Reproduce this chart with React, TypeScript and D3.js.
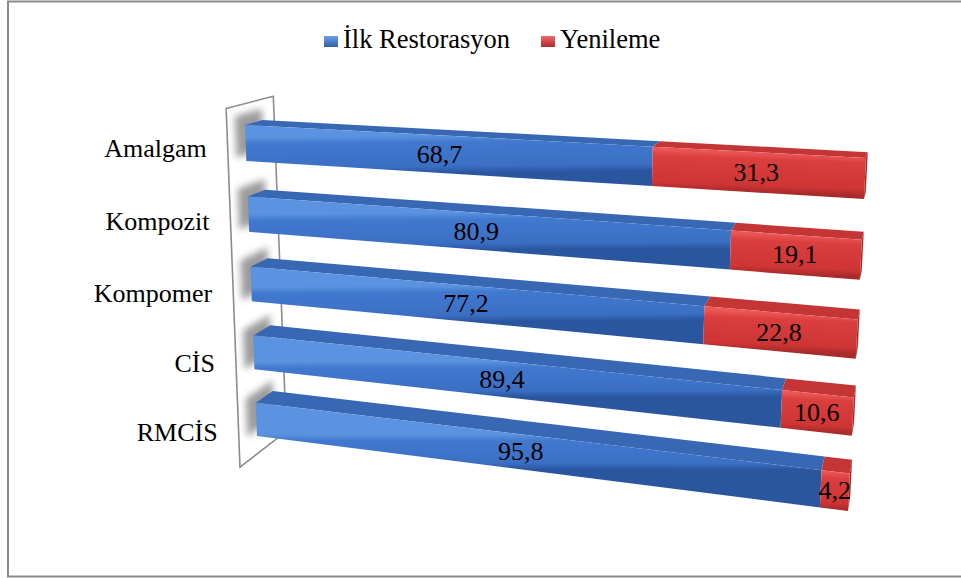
import React from 'react';
import * as d3 from 'd3';

const categories = ['Amalgam', 'Kompozit', 'Kompomer', 'CİS', 'RMCİS'];
const ilkRestorasyon = [68.7, 80.9, 77.2, 89.4, 95.8];
const yenileme = [31.3, 19.1, 22.8, 10.6, 4.2];
const seriesKeys = ['ilk', 'yen'];
const seriesNames = ['İlk Restorasyon', 'Yenileme'];
const valueDomain = [0, 100];

const W = 961;
const H = 578;
const FONT = 'Liberation Serif, Times New Roman, serif';

// front plane of the bars: unit square -> screen quad (perspective)
const QUAD = [[245, 125], [866, 158], [848, 511], [257, 436]];
const VP = [938, -75]; // vanishing point of depth axis

function makeHomography(q: number[][]) {
  const [[x0, y0], [x1, y1], [x2, y2], [x3, y3]] = q;
  const dx1 = x1 - x2, dy1 = y1 - y2;
  const dx2 = x3 - x2, dy2 = y3 - y2;
  const dx3 = x0 - x1 + x2 - x3, dy3 = y0 - y1 + y2 - y3;
  const den = dx1 * dy2 - dx2 * dy1;
  const g = (dx3 * dy2 - dx2 * dy3) / den;
  const h = (dx1 * dy3 - dx3 * dy1) / den;
  const a = x1 - x0 + g * x1, b = x3 - x0 + h * x3, c = x0;
  const d = y1 - y0 + g * y1, e = y3 - y0 + h * y3, f = y0;
  return (u: number, v: number) => {
    const wv = g * u + h * v + 1;
    return [(a * u + b * v + c) / wv, (d * u + e * v + f) / wv];
  };
}
const Hm = makeHomography(QUAD);
const proj = (u: number, w: number, dep = 0) => {
  const [x, y] = Hm(u, w);
  return [x + dep * (VP[0] - x), y + dep * (VP[1] - y)] as [number, number];
};

const xScale = d3.scaleLinear().domain(valueDomain).range([0, 1]);
const yScale = d3.scaleBand<string>().domain(categories).range([0, 1]).paddingInner(0.5).paddingOuter(0);

const rows = categories.map((c, i) => ({ cat: c, ilk: ilkRestorasyon[i], yen: yenileme[i] }));
const stacked = d3.stack<any>().keys(seriesKeys)(rows);

const D_BAR = 0.025;
const WALL_DF = -0.026;
const WALL_DB = 0.042;
const WALL_W0 = -0.065;
const WALL_W1 = 1.059;

const palette: Record<string, any> = {
  ilk: { stops: ['#5C93E0', '#4179CE', '#3B6FC4', '#2A56A0'], top: '#3867B4', end: '#2E5CA3', legend: ['#6FA0E6', '#2F5FA8'] },
  yen: { stops: ['#EC5858', '#DA3E3E', '#CF3535', '#A82A2A'], top: '#C43636', end: '#A82B2B', legend: ['#EE6A6A', '#B02C2C'] },
};

const line = d3.line();
const poly = (pts: [number, number][]) => line(pts) + 'Z';

export default function App() {
  const wallPts: [number, number][] = [
    proj(0, WALL_W0, WALL_DF), proj(0, WALL_W0, WALL_DB),
    proj(0, WALL_W1, WALL_DB), proj(0, WALL_W1, WALL_DF),
  ];

  const bars: any[] = [];
  const grads: any[] = [];
  const labels: any[] = [];
  stacked.forEach((series, si) => {
    const key = seriesKeys[si];
    const pal = palette[key];
    series.forEach((dpt, ci) => {
      const cat = categories[ci];
      const w0 = yScale(cat)!;
      const w1 = w0 + yScale.bandwidth();
      const u0 = xScale(dpt[0]);
      const u1 = xScale(dpt[1]);
      const um = (u0 + u1) / 2;
      const gid = `g-${key}-${ci}`;
      const gt = proj(um, w0, 0);
      const gb = proj(um, w1, 0);
      grads.push(
        <linearGradient key={gid} id={gid} gradientUnits="userSpaceOnUse" x1={gt[0]} y1={gt[1]} x2={gb[0]} y2={gb[1]}>
          <stop offset="0" stopColor={pal.stops[0]} />
          <stop offset="0.18" stopColor={pal.stops[1]} />
          <stop offset="0.82" stopColor={pal.stops[2]} />
          <stop offset="1" stopColor={pal.stops[3]} />
        </linearGradient>
      );
      const isLast = si === stacked.length - 1;
      bars.push(
        <g key={`${key}-${ci}`}>
          {isLast && (
            <path d={poly([proj(u1, w0, 0), proj(u1, w0, D_BAR), proj(u1, w1, D_BAR), proj(u1, w1, 0)])} fill={pal.end} />
          )}
          <path d={poly([proj(u0, w0, 0), proj(u1, w0, 0), proj(u1, w0, D_BAR), proj(u0, w0, D_BAR)])} fill={pal.top} />
          <path d={poly([proj(u0, w0, 0), proj(u1, w0, 0), proj(u1, w1, 0), proj(u0, w1, 0)])} fill={`url(#${gid})`} />
        </g>
      );
      const lp = proj(um, (w0 + w1) / 2, 0);
      labels.push(
        <text key={`l-${key}-${ci}`} x={lp[0]} y={lp[1]} textAnchor="middle" dominantBaseline="central"
          style={{ fontFamily: FONT, fontSize: 26 }} fill="#000">
          {d3.format('.1f')(dpt[1] - dpt[0]).replace('.', ',')}
        </text>
      );
    });
  });

  const shadows = categories.map((cat, ci) => {
    const w0 = yScale(cat)!;
    const w1 = w0 + yScale.bandwidth();
    return (
      <path key={`s-${ci}`} d={poly([proj(0, w0 - 0.035, WALL_DF + 0.012), proj(0, w0 - 0.035, D_BAR), proj(0, w1 - 0.02, D_BAR), proj(0, w1 - 0.02, WALL_DF + 0.012)])}
        fill="#7a7a7a" opacity={0.75} filter="url(#blur)" />
    );
  });

  const catLabels = categories.map((cat, ci) => {
    const w0 = yScale(cat)!;
    const p = proj(0, w0 + yScale.bandwidth() / 2, WALL_DF);
    return (
      <text key={`c-${ci}`} x={p[0] - 21} y={p[1]} textAnchor="end" dominantBaseline="central"
        style={{ fontFamily: FONT, fontSize: 26 }} fill="#000">
        {cat}
      </text>
    );
  });

  const legendItems = [
    { key: 'ilk', name: seriesNames[0], mx: 324, tx: 343 },
    { key: 'yen', name: seriesNames[1], mx: 541, tx: 560 },
  ];

  return (
    <svg width={W} height={H} style={{ position: 'absolute', left: 0, top: 0, background: '#fff' }}>
      <defs>
        {grads}
        <filter id="blur" x="-50%" y="-50%" width="200%" height="200%">
          <feGaussianBlur stdDeviation="3.5" />
        </filter>
        <clipPath id="wallclip">
          <path d={poly(wallPts)} />
        </clipPath>
        {legendItems.map((li) => (
          <linearGradient key={`lg-${li.key}`} id={`lg-${li.key}`} x1="0" y1="0" x2="0" y2="1">
            <stop offset="0" stopColor={palette[li.key].legend[0]} />
            <stop offset="1" stopColor={palette[li.key].legend[1]} />
          </linearGradient>
        ))}
      </defs>
      <rect x={8} y={1.5} width={960} height={575} fill="#fff" stroke="#8a8a8a" strokeWidth={2} />
      <path d={poly(wallPts)} fill="#fff" />
      <g clipPath="url(#wallclip)">{shadows}</g>
      <path d={poly(wallPts)} fill="none" stroke="#8c8c8c" strokeWidth={1.6} />
      {bars}
      {labels}
      {catLabels}
      {legendItems.map((li) => (
        <g key={`li-${li.key}`}>
          <rect x={li.mx} y={36} width={14} height={11} fill={`url(#lg-${li.key})`} />
          <text x={li.tx} y={48} style={{ fontFamily: FONT, fontSize: 26.5 }} fill="#000">{li.name}</text>
        </g>
      ))}
    </svg>
  );
}
